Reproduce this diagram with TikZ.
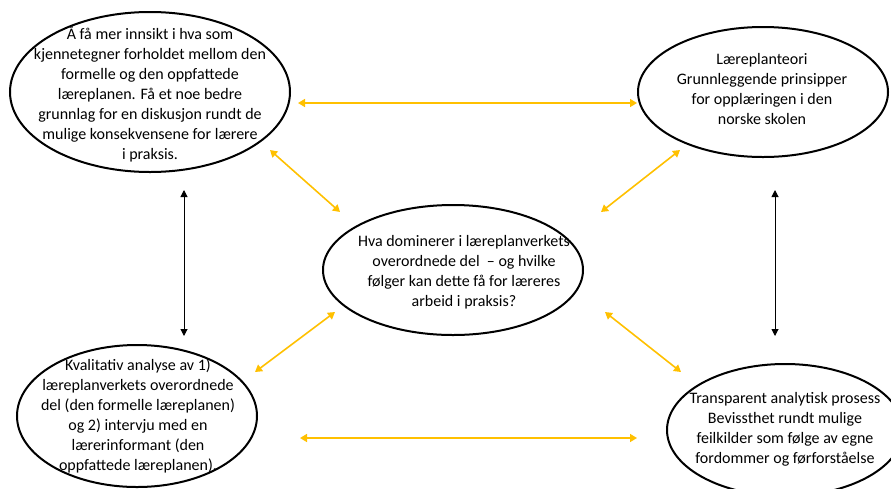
\documentclass[tikz,border=0pt]{standalone}
\usepackage{fontspec}
\setmainfont{Carlito}
\usetikzlibrary{arrows.meta,shapes.geometric}
\definecolor{gold}{HTML}{FFC000}
\tikzset{
  oval/.style={draw=black, line width=2pt, ellipse, inner sep=0pt},
  txt/.style={align=center, font=\fontsize{16}{20}\selectfont, text=black, inner sep=0pt},
  goldarrow/.style={draw=gold, line width=1.6pt, {Triangle[length=7pt,width=8pt]}-{Triangle[length=7pt,width=8pt]}},
  blackarrow/.style={draw=black, line width=1pt, {Triangle[length=7pt,width=7pt]}-{Triangle[length=7pt,width=7pt]}}
}
\begin{document}
\begin{tikzpicture}[x=1pt,y=-1pt]
\useasboundingbox (0,0) rectangle (891,488);
% ellipses
\node[oval, minimum width=280pt, minimum height=160pt] (tl) at (150,92) {};
\node[oval, minimum width=250pt, minimum height=130pt] (tr) at (763,92) {};
\node[oval, minimum width=260pt, minimum height=130pt] (c) at (453,270) {};
\node[oval, minimum width=240pt, minimum height=142pt] (bl) at (137,416) {};
\node[oval, minimum width=236pt, minimum height=132pt] (br) at (785,430) {};
% texts
\node[txt] (tlt) at (150,94) {Å få mer innsikt i hva som\\kjennetegner forholdet mellom den\\formelle og den oppfattede\\læreplanen. Få et noe bedre\\grunnlag for en diskusjon rundt de\\mulige konsekvensene for lærere\\i praksis.};
\node[txt] (trt) at (762,89) {Læreplanteori\\Grunnleggende prinsipper\\for opplæringen i den\\norske skolen};
\node[txt] (ct) at (464,272) {Hva dominerer i læreplanverkets\\overordnede del \ – og hvilke\\følger kan dette få for læreres\\arbeid i praksis?};
\node[txt] (blt) at (138,416) {Kvalitativ analyse av 1)\\læreplanverkets overordnede\\del (den formelle læreplanen)\\og 2) intervju med en\\lærerinformant (den\\oppfattede læreplanen).};
\node[txt] (brt) at (785,429) {Transparent analytisk prosess\\Bevissthet rundt mulige\\feilkilder som følge av egne\\fordommer og førforståelse};
% connector end points
\coordinate (tlE) at (298,103);
\coordinate (trW) at (637,103);
\coordinate (blE) at (300,438);
\coordinate (brW) at (637,438);
\coordinate (tlSE) at (270,150);
\coordinate (cNW) at (340,212);
\coordinate (trSW) at (680,150);
\coordinate (cNE) at (601,212);
\coordinate (blNE) at (255,372);
\coordinate (cSW) at (335,312);
\coordinate (brNW) at (681,372);
\coordinate (cSE) at (605,312);
\coordinate (tlS) at (184,190);
\coordinate (blN) at (184,336);
\coordinate (trS) at (775,190);
\coordinate (brN) at (775,336);
% connectors
\draw[goldarrow] (tlE) -- (trW);
\draw[goldarrow] (blE) -- (brW);
\draw[goldarrow] (tlSE) -- (cNW);
\draw[goldarrow] (trSW) -- (cNE);
\draw[goldarrow] (blNE) -- (cSW);
\draw[goldarrow] (brNW) -- (cSE);
\draw[blackarrow] (tlS) -- (blN);
\draw[blackarrow] (trS) -- (brN);
\end{tikzpicture}
\end{document}
